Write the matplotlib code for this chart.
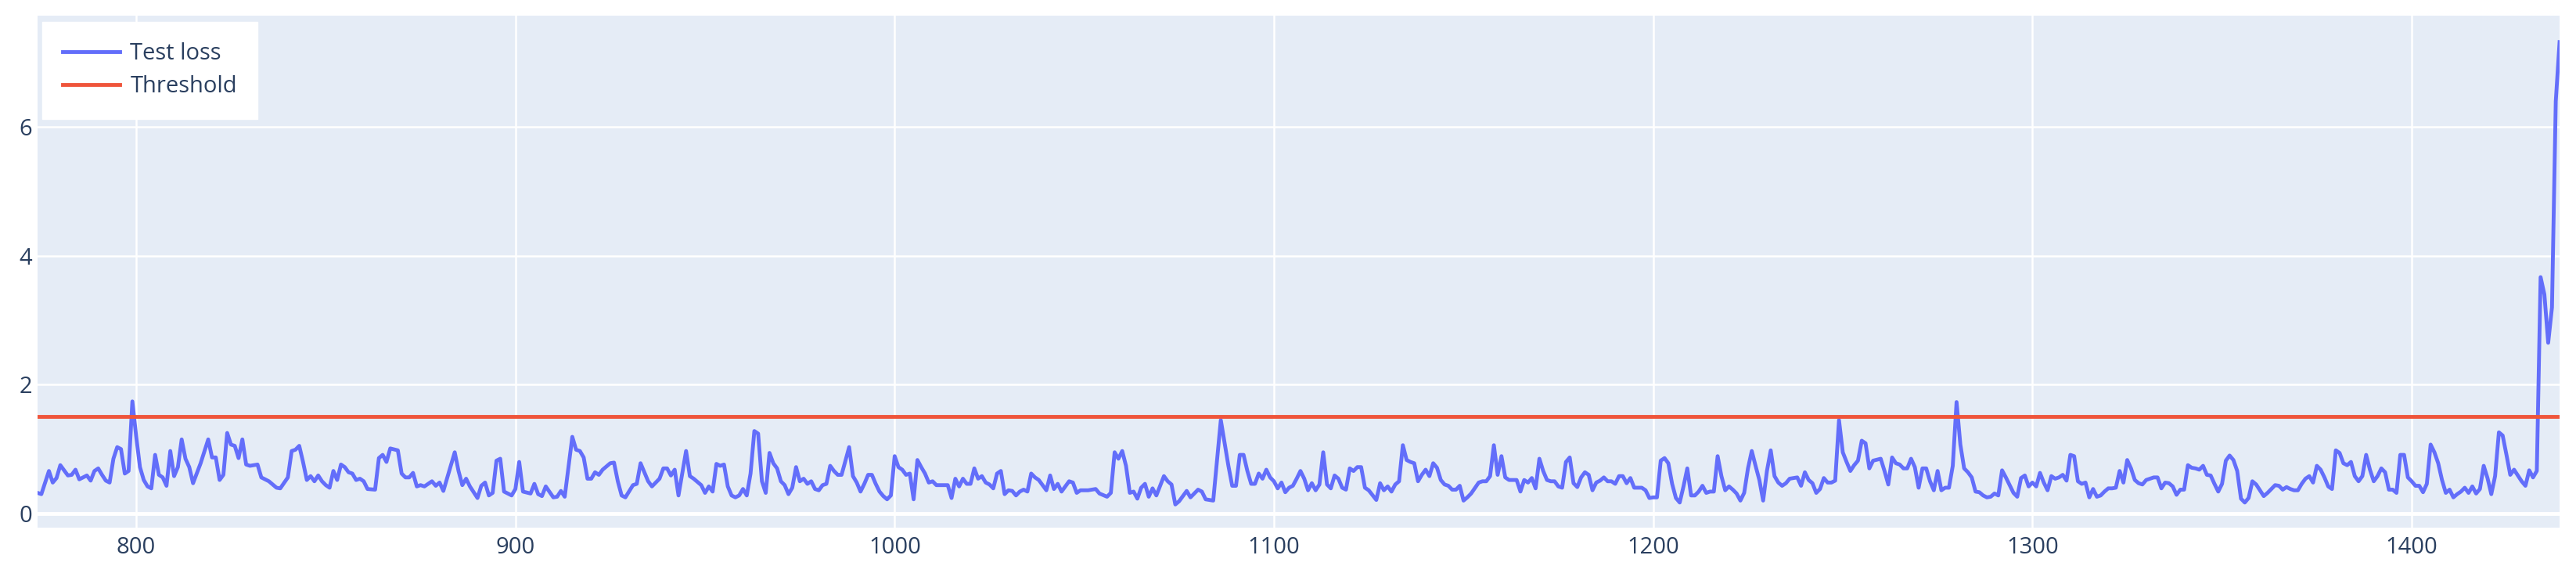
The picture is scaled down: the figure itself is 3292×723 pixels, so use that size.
import matplotlib
matplotlib.use('Agg')
import matplotlib.pyplot as plt

# sample index and test loss
steps = [
    774, 775, 777, 778, 779, 780, 782, 783, 784, 785,
    786, 787, 788, 789, 790, 791, 792, 793, 794, 795,
    796, 797, 798, 799, 800, 801, 802, 803, 804, 805,
    806, 807, 808, 809, 810, 811, 812, 813, 814, 815,
    817, 819, 820, 821, 822, 823, 824, 825, 826, 827,
    828, 829, 830, 832, 833, 835, 837, 838, 840, 841,
    842, 843, 844, 845, 846, 847, 848, 849, 850, 851,
    852, 853, 854, 855, 856, 857, 858, 859, 860, 861,
    863, 864, 865, 866, 867, 869, 870, 871, 872, 873,
    874, 875, 876, 878, 879, 880, 881, 882, 884, 885,
    886, 887, 888, 890, 891, 892, 893, 894, 895, 896,
    897, 899, 900, 901, 902, 904, 905, 906, 907, 908,
    910, 911, 912, 913, 915, 916, 917, 918, 919, 920,
    921, 922, 923, 925, 926, 927, 928, 929, 931, 932,
    933, 934, 935, 936, 938, 939, 940, 941, 942, 943,
    945, 946, 947, 949, 950, 951, 952, 953, 954, 955,
    956, 957, 958, 959, 960, 961, 962, 963, 964, 965,
    966, 967, 968, 969, 970, 971, 972, 973, 974, 975,
    976, 977, 978, 979, 980, 981, 982, 983, 984, 985,
    986, 988, 989, 990, 991, 992, 993, 994, 995, 996,
    997, 998, 999, 1000, 1001, 1002, 1003, 1004, 1005, 1006,
    1007, 1008, 1009, 1010, 1011, 1012, 1014, 1015, 1016, 1017,
    1018, 1019, 1020, 1021, 1022, 1023, 1024, 1025, 1026, 1027,
    1028, 1029, 1030, 1031, 1032, 1033, 1034, 1035, 1036, 1037,
    1038, 1040, 1041, 1042, 1043, 1044, 1046, 1047, 1048, 1049,
    1051, 1053, 1054, 1056, 1057, 1058, 1059, 1060, 1061, 1062,
    1063, 1064, 1065, 1066, 1067, 1068, 1069, 1071, 1072, 1073,
    1074, 1075, 1077, 1078, 1080, 1081, 1082, 1084, 1086, 1088,
    1089, 1090, 1091, 1092, 1093, 1094, 1095, 1096, 1097, 1098,
    1099, 1100, 1101, 1102, 1103, 1104, 1105, 1106, 1107, 1108,
    1109, 1110, 1111, 1112, 1113, 1114, 1115, 1116, 1117, 1118,
    1119, 1120, 1121, 1122, 1123, 1124, 1125, 1127, 1128, 1129,
    1130, 1131, 1132, 1133, 1134, 1135, 1136, 1137, 1138, 1139,
    1140, 1141, 1142, 1143, 1144, 1145, 1146, 1147, 1148, 1149,
    1150, 1151, 1152, 1154, 1155, 1156, 1157, 1158, 1159, 1160,
    1161, 1162, 1164, 1165, 1166, 1167, 1168, 1169, 1170, 1171,
    1172, 1173, 1174, 1175, 1176, 1177, 1178, 1179, 1180, 1181,
    1182, 1183, 1184, 1185, 1186, 1187, 1188, 1189, 1190, 1191,
    1192, 1193, 1194, 1195, 1196, 1197, 1198, 1199, 1200, 1201,
    1202, 1203, 1204, 1205, 1206, 1207, 1208, 1209, 1210, 1211,
    1212, 1213, 1214, 1215, 1216, 1217, 1218, 1219, 1220, 1221,
    1222, 1223, 1224, 1225, 1226, 1227, 1228, 1229, 1230, 1231,
    1232, 1233, 1234, 1235, 1236, 1237, 1238, 1239, 1240, 1241,
    1242, 1243, 1244, 1245, 1246, 1247, 1248, 1249, 1250, 1251,
    1252, 1253, 1254, 1255, 1256, 1257, 1258, 1260, 1261, 1262,
    1263, 1264, 1265, 1266, 1267, 1268, 1269, 1270, 1271, 1272,
    1273, 1274, 1275, 1276, 1277, 1278, 1279, 1280, 1281, 1282,
    1283, 1284, 1285, 1286, 1287, 1288, 1289, 1290, 1291, 1292,
    1293, 1294, 1295, 1296, 1297, 1298, 1299, 1300, 1301, 1302,
    1303, 1304, 1305, 1306, 1307, 1308, 1309, 1310, 1311, 1312,
    1313, 1314, 1315, 1316, 1317, 1318, 1319, 1320, 1321, 1322,
    1323, 1324, 1325, 1326, 1327, 1328, 1329, 1330, 1332, 1333,
    1334, 1335, 1336, 1337, 1338, 1339, 1340, 1341, 1342, 1343,
    1344, 1345, 1346, 1347, 1348, 1349, 1350, 1351, 1352, 1353,
    1354, 1355, 1356, 1357, 1358, 1359, 1360, 1361, 1362, 1364,
    1365, 1366, 1367, 1368, 1369, 1370, 1371, 1372, 1373, 1374,
    1375, 1376, 1377, 1378, 1379, 1380, 1381, 1382, 1383, 1384,
    1385, 1386, 1387, 1388, 1389, 1390, 1391, 1392, 1393, 1394,
    1395, 1396, 1397, 1398, 1399, 1400, 1401, 1402, 1403, 1404,
    1405, 1406, 1407, 1408, 1409, 1410, 1411, 1412, 1413, 1414,
    1415, 1416, 1417, 1418, 1419, 1420, 1421, 1422, 1423, 1424,
    1425, 1426, 1427, 1428, 1429, 1430, 1431, 1432, 1433, 1434,
    1435, 1436, 1437, 1438, 1439,
]
test_loss = [
    0.32, 0.30, 0.66, 0.48, 0.55, 0.75, 0.59, 0.60, 0.68, 0.53,
    0.56, 0.59, 0.51, 0.66, 0.70, 0.60, 0.51, 0.48, 0.85, 1.03,
    1.00, 0.62, 0.66, 1.74, 1.20, 0.72, 0.52, 0.42, 0.39, 0.91,
    0.60, 0.56, 0.43, 0.97, 0.58, 0.72, 1.15, 0.85, 0.72, 0.47,
    0.78, 1.15, 0.87, 0.87, 0.52, 0.60, 1.25, 1.07, 1.05, 0.86,
    1.15, 0.76, 0.74, 0.76, 0.56, 0.50, 0.40, 0.39, 0.56, 0.97,
    0.99, 1.05, 0.80, 0.52, 0.58, 0.50, 0.59, 0.50, 0.44, 0.40,
    0.66, 0.52, 0.76, 0.72, 0.64, 0.62, 0.52, 0.54, 0.50, 0.38,
    0.37, 0.86, 0.91, 0.80, 1.01, 0.98, 0.62, 0.56, 0.56, 0.63,
    0.42, 0.44, 0.42, 0.50, 0.43, 0.48, 0.35, 0.55, 0.95, 0.66,
    0.44, 0.54, 0.42, 0.24, 0.43, 0.48, 0.28, 0.32, 0.82, 0.85,
    0.34, 0.28, 0.38, 0.80, 0.34, 0.31, 0.46, 0.30, 0.27, 0.42,
    0.25, 0.26, 0.35, 0.26, 1.19, 0.99, 0.97, 0.87, 0.54, 0.54,
    0.64, 0.60, 0.68, 0.78, 0.79, 0.50, 0.28, 0.25, 0.44, 0.46,
    0.78, 0.64, 0.50, 0.42, 0.54, 0.70, 0.70, 0.59, 0.68, 0.28,
    0.97, 0.58, 0.54, 0.44, 0.32, 0.42, 0.34, 0.77, 0.74, 0.76,
    0.42, 0.28, 0.25, 0.28, 0.38, 0.28, 0.62, 1.28, 1.24, 0.50,
    0.32, 0.94, 0.78, 0.70, 0.50, 0.44, 0.30, 0.40, 0.72, 0.50,
    0.54, 0.46, 0.50, 0.38, 0.36, 0.44, 0.46, 0.74, 0.66, 0.60,
    0.60, 1.03, 0.58, 0.48, 0.34, 0.46, 0.60, 0.60, 0.46, 0.34,
    0.27, 0.22, 0.28, 0.89, 0.72, 0.68, 0.60, 0.62, 0.22, 0.83,
    0.72, 0.62, 0.48, 0.50, 0.44, 0.44, 0.44, 0.24, 0.54, 0.42,
    0.54, 0.46, 0.46, 0.70, 0.54, 0.58, 0.48, 0.45, 0.39, 0.62,
    0.66, 0.30, 0.36, 0.35, 0.28, 0.34, 0.37, 0.34, 0.62, 0.56,
    0.52, 0.36, 0.59, 0.38, 0.46, 0.34, 0.50, 0.48, 0.32, 0.36,
    0.36, 0.38, 0.31, 0.26, 0.32, 0.95, 0.85, 0.97, 0.74, 0.32,
    0.34, 0.23, 0.40, 0.46, 0.26, 0.39, 0.28, 0.58, 0.50, 0.45,
    0.14, 0.19, 0.35, 0.25, 0.37, 0.34, 0.22, 0.20, 1.45, 0.74,
    0.43, 0.43, 0.91, 0.91, 0.66, 0.46, 0.46, 0.62, 0.54, 0.68,
    0.56, 0.50, 0.39, 0.48, 0.33, 0.40, 0.43, 0.54, 0.66, 0.54,
    0.36, 0.47, 0.36, 0.45, 0.95, 0.45, 0.39, 0.59, 0.54, 0.40,
    0.37, 0.70, 0.66, 0.72, 0.72, 0.40, 0.36, 0.21, 0.47, 0.36,
    0.42, 0.34, 0.45, 0.50, 1.06, 0.83, 0.80, 0.78, 0.50, 0.60,
    0.68, 0.58, 0.78, 0.71, 0.52, 0.45, 0.43, 0.37, 0.37, 0.43,
    0.20, 0.25, 0.31, 0.48, 0.50, 0.50, 0.58, 1.06, 0.60, 0.89,
    0.56, 0.52, 0.52, 0.34, 0.52, 0.48, 0.55, 0.39, 0.85, 0.66,
    0.52, 0.50, 0.50, 0.42, 0.40, 0.80, 0.87, 0.47, 0.41, 0.56,
    0.64, 0.60, 0.36, 0.48, 0.51, 0.56, 0.50, 0.50, 0.46, 0.58,
    0.58, 0.47, 0.55, 0.40, 0.40, 0.40, 0.36, 0.24, 0.25, 0.25,
    0.82, 0.86, 0.78, 0.46, 0.24, 0.17, 0.42, 0.70, 0.28, 0.28,
    0.34, 0.43, 0.32, 0.34, 0.34, 0.89, 0.58, 0.36, 0.42, 0.37,
    0.31, 0.20, 0.32, 0.70, 0.97, 0.74, 0.52, 0.20, 0.66, 0.98,
    0.58, 0.48, 0.43, 0.47, 0.54, 0.55, 0.56, 0.43, 0.64, 0.52,
    0.47, 0.32, 0.38, 0.55, 0.48, 0.48, 0.51, 1.45, 0.95, 0.80,
    0.66, 0.75, 0.82, 1.13, 1.09, 0.70, 0.82, 0.85, 0.66, 0.45,
    0.87, 0.78, 0.76, 0.70, 0.70, 0.85, 0.72, 0.40, 0.70, 0.70,
    0.50, 0.36, 0.66, 0.36, 0.40, 0.40, 0.74, 1.73, 1.07, 0.70,
    0.64, 0.56, 0.34, 0.33, 0.28, 0.25, 0.26, 0.31, 0.28, 0.67,
    0.56, 0.44, 0.32, 0.26, 0.55, 0.59, 0.42, 0.48, 0.42, 0.63,
    0.48, 0.36, 0.58, 0.54, 0.56, 0.60, 0.51, 0.91, 0.89, 0.50,
    0.46, 0.48, 0.25, 0.38, 0.26, 0.28, 0.34, 0.39, 0.39, 0.40,
    0.66, 0.48, 0.83, 0.70, 0.52, 0.47, 0.45, 0.52, 0.56, 0.56,
    0.39, 0.48, 0.47, 0.42, 0.29, 0.37, 0.37, 0.75, 0.71, 0.70,
    0.68, 0.74, 0.60, 0.59, 0.46, 0.34, 0.46, 0.82, 0.90, 0.83,
    0.66, 0.23, 0.17, 0.24, 0.50, 0.45, 0.36, 0.27, 0.32, 0.44,
    0.43, 0.37, 0.41, 0.38, 0.36, 0.36, 0.46, 0.54, 0.58, 0.48,
    0.74, 0.68, 0.56, 0.42, 0.38, 0.98, 0.94, 0.78, 0.75, 0.80,
    0.58, 0.50, 0.58, 0.91, 0.68, 0.50, 0.58, 0.70, 0.64, 0.37,
    0.37, 0.32, 0.91, 0.91, 0.56, 0.50, 0.43, 0.43, 0.33, 0.46,
    1.07, 0.95, 0.78, 0.52, 0.32, 0.37, 0.25, 0.30, 0.34, 0.40,
    0.32, 0.42, 0.31, 0.38, 0.74, 0.55, 0.30, 0.58, 1.26, 1.21,
    0.91, 0.60, 0.68, 0.59, 0.50, 0.43, 0.67, 0.56, 0.66, 3.67,
    3.40, 2.65, 3.20, 6.40, 7.32,
]
assert len(steps) == len(test_loss)

threshold = 1.51
x_ticks = [800, 900, 1000, 1100, 1200, 1300, 1400]
y_ticks = [0, 2, 4, 6]

plt.rcParams['font.family'] = ['Open Sans', 'DejaVu Sans']

W, H = 3292, 723
fig = plt.figure(figsize=(W / 100, H / 100), dpi=100)
ax = fig.add_axes([48 / W, 1 - 674 / H, (3271 - 48) / W, (674 - 20) / H])
ax.set_facecolor('#E5ECF6')
ax.set_axisbelow(True)

ax.plot(steps, test_loss, color='#636EFA', lw=3.5, solid_joinstyle='round',
        label='Test loss', zorder=3)
ax.axhline(threshold, color='#EF553B', lw=3.5, label='Threshold', zorder=4)

ax.set_xlim(steps[0], steps[-1])
ax.set_ylim(-0.22, 7.73)
ax.set_xticks(x_ticks)
ax.set_yticks(y_ticks)
ax.grid(True, color='white', lw=1.8)
ax.axhline(0, color='white', lw=3.5, zorder=1)  # zero line
for s in ax.spines.values():
    s.set_visible(False)
ax.tick_params(length=0, labelsize=21, labelcolor='#2a3f5f')
ax.tick_params(axis='x', pad=8)
ax.tick_params(axis='y', pad=5)

leg = ax.legend(loc='upper left', bbox_to_anchor=(0.0019, 0.9878), borderaxespad=0,
                frameon=True, fancybox=False, facecolor='white', edgecolor='white',
                framealpha=1, fontsize=21, handlelength=2.5, handletextpad=0.45,
                labelspacing=0.45, borderpad=0.9)
for t in leg.get_texts():
    t.set_color('#2a3f5f')

fig.savefig('out.png', dpi=100)
